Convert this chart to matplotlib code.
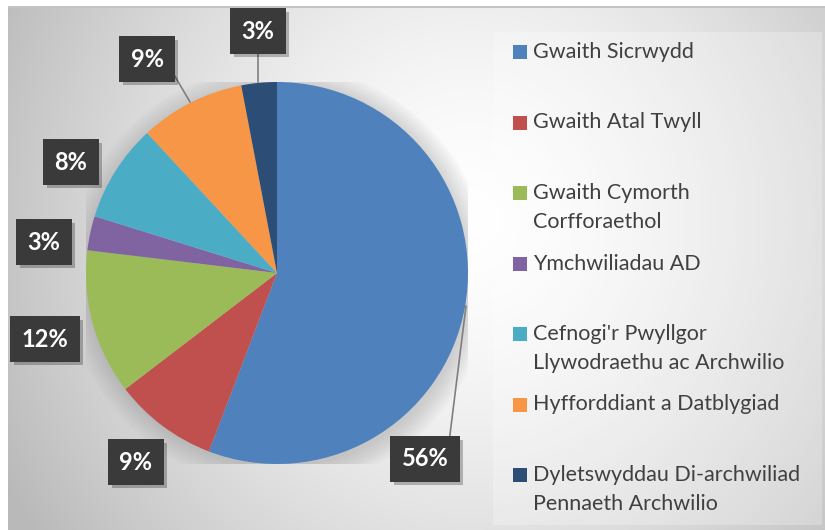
import numpy as np
import matplotlib
matplotlib.use('Agg')
import matplotlib.pyplot as plt
import matplotlib.patheffects as pe
from matplotlib.patches import Rectangle, Circle

# data
categories = ['Gwaith Sicrwydd', 'Gwaith Atal Twyll', 'Gwaith Cymorth\nCorfforaethol',
              'Ymchwiliadau AD', "Cefnogi'r Pwyllgor\nLlywodraethu ac Archwilio",
              'Hyfforddiant a Datblygiad', 'Dyletswyddau Di-archwiliad\nPennaeth Archwilio']
values = [55.8, 8.8, 12.3, 2.9, 8.3, 8.9, 3.0]
colors = ['#4F81BD', '#C0504D', '#9BBB59', '#8064A2', '#4BACC6', '#F79646', '#2C4D75']

W, H = 825, 530
CX, CY, R = 277, 273, 191


def fx(x):
    return x / W


def fy(y):
    return 1 - y / H


def to_data(px, py):
    return (px - CX) / R, (CY - py) / R


fig = plt.figure(figsize=(8.25, 5.3), dpi=100)
fig.patch.set_facecolor('white')

# background gradient
bg = fig.add_axes([fx(8), 0, 1 - fx(8), fy(6)])
yy, xx = np.mgrid[6:530, 8:825]
d = np.sqrt((xx - 470) ** 2 + ((yy - 220) / 1.05) ** 2)
val = 255 - 70 * np.clip(d / 530, 0, 1) ** 1.5
img = np.dstack([val, val, val]) / 255.0
bg.imshow(img, aspect='auto', interpolation='bilinear')
bg.axis('off')
fig.add_artist(Rectangle((fx(8), fy(7.5)), 1 - fx(8), 1.5 / H, transform=fig.transFigure,
                         color='#c4c4c4', lw=0))
# legend panel
fig.add_artist(Rectangle((fx(493), fy(525)), fx(822 - 493), (525 - 32) / H, transform=fig.transFigure,
                         facecolor='white', alpha=0.25, lw=0))

ax = fig.add_axes([fx(CX - R), fy(CY + R), 2 * R / W, 2 * R / H])
ax.axis('off')

# soft shadow
for k in range(10):
    ax.add_patch(Circle((0.01, -0.02), 1.0 + 0.012 * k, color='#808080', alpha=0.035, lw=0, zorder=0))

wedges, _ = ax.pie(values, colors=colors, startangle=90, counterclock=False, radius=1,
                   wedgeprops=dict(linewidth=0), frame=False)
ax.set_xlim(-1, 1)
ax.set_ylim(-1, 1)
ax.set_aspect('auto')

# label boxes (pixel centres), leader line targets on the pie edge
label_px = [(425, 459), (136, 462), (45, 339), (44, 242), (71, 162), (147, 59), (258, 31)]
leader_px = {0: ((466, 306), (1, 1)), 5: ((190, 102), (1, 0.6)), 6: ((258, 82), (0.5, 0))}

box_fx = [pe.SimplePatchShadow(offset=(2.5, -2.5), shadow_rgbFace='black', alpha=0.25), pe.Normal()]
for i, v in enumerate(values):
    lx, ly = to_data(*label_px[i])
    txt = '%.0f%%' % v
    box = dict(boxstyle='square,pad=0.48', fc='#3a3a3a', ec='none', path_effects=box_fx)
    if i in leader_px:
        (px, py), rel = leader_px[i]
        ax.annotate(txt, xy=to_data(px, py), xytext=(lx, ly), ha='center', va='center',
                    fontsize=17, fontweight='bold', family='Lato', color='white', bbox=box,
                    arrowprops=dict(arrowstyle='-', color='#7f7f7f', lw=1.2, relpos=rel,
                                    shrinkA=0, shrinkB=0),
                    annotation_clip=False, zorder=5)
    else:
        ax.text(lx, ly, txt, ha='center', va='center', fontsize=17, fontweight='bold',
                family='Lato', color='white', bbox=box, zorder=5)

# legend
for i, (lab, c) in enumerate(zip(categories, colors)):
    yc = 52 + 70.5 * i
    fig.add_artist(Rectangle((fx(513), fy(yc + 7)), 14 / W, 14 / H, transform=fig.transFigure,
                             facecolor=c, lw=0))
    for j, line in enumerate(lab.split('\n')):
        fig.text(fx(533), fy(yc + 29 * j), line, ha='left', va='center', fontsize=15.5,
                 family='Lato', color='#404040')

fig.savefig('out.png', dpi=100)
